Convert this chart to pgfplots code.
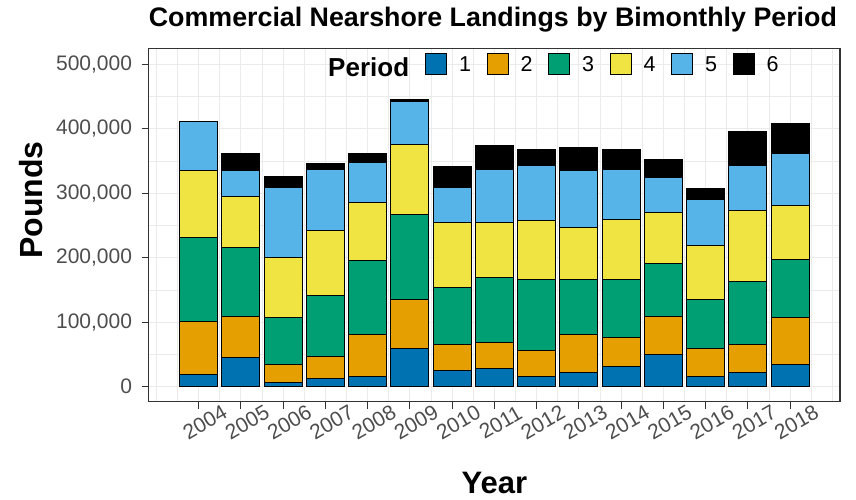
\documentclass[border=0pt]{standalone}
\usepackage{fontspec}
\setmainfont{Liberation Sans}
\usepackage{pgfplots}
\usepackage{pgfplotstable}
\pgfplotsset{compat=1.18}

\definecolor{c1}{HTML}{0072B2}
\definecolor{c2}{HTML}{E69F00}
\definecolor{c3}{HTML}{009E73}
\definecolor{c4}{HTML}{F0E442}
\definecolor{c5}{HTML}{56B4E9}
\definecolor{c6}{HTML}{000000}
\definecolor{gridgray}{HTML}{EBEBEB}
\definecolor{ticktext}{HTML}{4D4D4D}
\definecolor{frame}{HTML}{333333}

% landings (pounds) by year and bimonthly period
\pgfplotstableread{
year  p1     p2     p3      p4      p5      p6
2004  19000  82000  131000  103000  76000   0
2005  46000  63000  107000  79000   40000   26000
2006  6000   29000  72000   93000   109000  17000
2007  13000  33500  94500   100500  96000   8000
2008  16500  65000  113500  90000   62500   14000
2009  59000  76000  131500  109000  66500   3500
2010  25000  41000  88000   100500  55000   32500
2011  28500  40000  100500  85000   83500   36000
2012  16500  40000  109500  91000   86500   24000
2013  22000  59500  84500   81500   88000   35000
2014  31000  45000  90000   94000   77500   30000
2015  50500  59000  81500   78500   55500   27000
2016  15500  44000  76000   84000   71000   17500
2017  21500  44000  97000   110000  71000   52500
2018  34500  72000  90500   84000   81000   45500
}\landings

\begin{document}
\begin{tikzpicture}
\useasboundingbox (-148.7pt,-97.3pt) rectangle (707.3pt,401.7pt);
\begin{axis}[
  at={(0pt,0pt)}, anchor=south west,
  width=691.3pt, height=353.4pt, scale only axis,
  ybar stacked, bar width=0.9,
  xmin=2002.82, xmax=2019.18,
  ymin=-23300, ymax=524700,
  xtick={2004,...,2018},
  minor xtick={2003,2003.5,2004.5,2005.5,2006.5,2007.5,2008.5,2009.5,2010.5,2011.5,2012.5,2013.5,2014.5,2015.5,2016.5,2017.5,2018.5,2019},
  ytick={0,100000,...,500000},
  minor ytick={50000,150000,...,450000},
  grid=both,
  major grid style={gridgray, line width=1.1pt},
  minor grid style={gridgray, line width=0.7pt},
  tick align=outside, tick pos=left,
  major tick length=7pt, minor tick length=0pt,
  tick style={frame, line width=1pt},
  axis line style={frame, line width=1.1pt},
  scaled x ticks=false, scaled y ticks=false,
  /pgf/number format/assume math mode=true,
  tick label style={color=ticktext, font=\fontsize{21}{21}\selectfont},
  x tick label style={/pgf/number format/1000 sep={}, inner sep=0pt,
    anchor=north, yshift=-7pt, xshift=2.5pt, rotate=30},
  y tick label style={/pgf/number format/fixed, /pgf/number format/1000 sep={,}, inner sep=0pt, xshift=-9.5pt},
  title={Commercial Nearshore Landings by Bimonthly Period},
  title style={at={(rel axis cs:0,1)}, anchor=base west, yshift=15.3pt, inner sep=0pt,
    font=\bfseries\fontsize{26.8}{26.8}\selectfont},
  xlabel={Year},
  xlabel style={at={(rel axis cs:0.5,0)}, anchor=base, yshift=-91.3pt, inner sep=0pt,
    font=\bfseries\fontsize{31}{31}\selectfont},
  ylabel={Pounds},
  ylabel style={at={(rel axis cs:0,0.571)}, anchor=center, yshift=117.7pt, inner sep=0pt,
    font=\bfseries\fontsize{32}{32}\selectfont},
  every axis plot post/.append style={draw=black, line width=1pt},
  legend image code/.code={\draw[#1] (0pt,-10.5pt) rectangle (21pt,10.5pt);},
  legend columns=-1,
  legend style={at={(rel axis cs:0.3997,0.9542)}, anchor=west, draw=none, fill=none,
    inner sep=0pt, font=\fontsize{21.5}{21.5}\selectfont,
    /tikz/every even column/.append style={column sep=13.5pt},
    /tikz/every odd column/.append style={column sep=10pt}},
]
\addplot[fill=c1] table[x=year, y=p1] {\landings};
\addplot[fill=c2] table[x=year, y=p2] {\landings};
\addplot[fill=c3] table[x=year, y=p3] {\landings};
\addplot[fill=c4] table[x=year, y=p4] {\landings};
\addplot[fill=c5] table[x=year, y=p5] {\landings};
\addplot[fill=c6] table[x=year, y=p6] {\landings};
\legend{1,2,3,4,5,6}
\node[anchor=base west, inner sep=0pt, font=\bfseries\fontsize{26}{26}\selectfont]
  at (rel axis cs:0.2594,0.9197) {Period};
\end{axis}
\end{tikzpicture}
\end{document}
